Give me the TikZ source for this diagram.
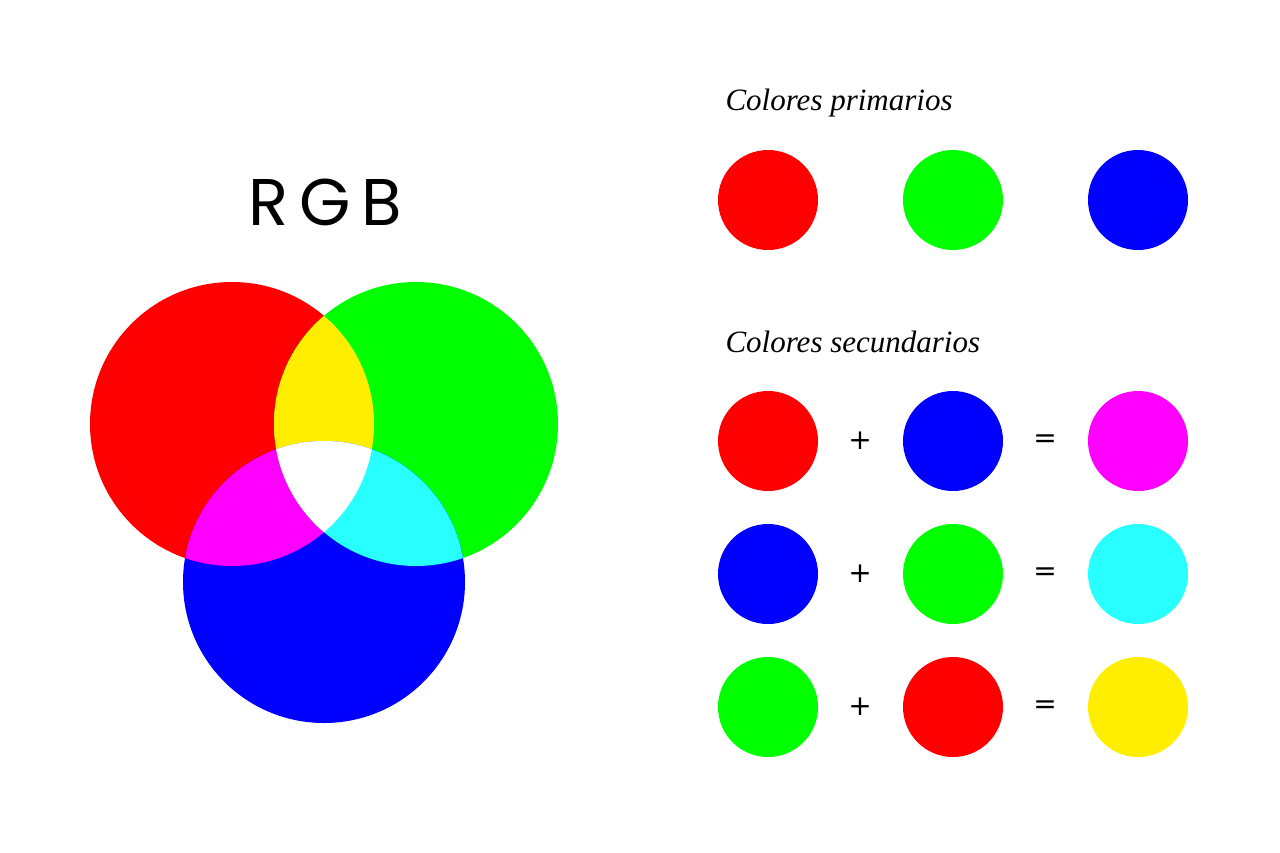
\documentclass[tikz,border=0pt]{standalone}
\usepackage{fontspec}
\setmainfont{Liberation Serif}
\newfontfamily\rgbfont{Poppins}
\newfontfamily\opfont{DejaVu Sans}
\definecolor{rojo}{HTML}{FF0000}
\definecolor{verde}{HTML}{00FF00}
\definecolor{azul}{HTML}{0000FF}
\definecolor{magenta}{HTML}{FF00FF}
\definecolor{cian}{HTML}{28FFFF}
\definecolor{amarillo}{HTML}{FFEE00}
\tikzset{
    dot/.style={circle, minimum size=100pt, inner sep=0pt, fill=#1},
    titulo/.style={anchor=west, font=\fontsize{31}{31}\selectfont\itshape},
    op/.style={font=\opfont\fontsize{28}{28}\selectfont}
}
\begin{document}
\begin{tikzpicture}[x=1pt, y=-1pt]
    \useasboundingbox (0,0) rectangle (1280,852);

    % diagrama RGB
    \node (rgb) at (325,202) {\rgbfont\fontsize{66}{66}\selectfont R\,G\,B};
    \fill[rojo] (232,424) circle (142);
    \fill[verde] (416,424) circle (142);
    \fill[azul] (324,582) circle (141);
    \begin{scope}
        \clip (232,424) circle (142);
        \fill[amarillo] (416,424) circle (142);
        \fill[magenta] (324,582) circle (141);
    \end{scope}
    \begin{scope}
        \clip (416,424) circle (142);
        \fill[cian] (324,582) circle (141);
        \clip (232,424) circle (142);
        \fill[white] (324,582) circle (141);
    \end{scope}

    % colores primarios
    \node[titulo] (prim) at (722,103) {Colores primarios};
    \foreach \x/\c in {768/rojo, 953/verde, 1138/azul} {
        \node[dot=\c] (p\x) at (\x,200) {};
    }

    % colores secundarios
    \node[titulo] (sec) at (722,342) {Colores secundarios};
    \foreach \y/\a/\b/\r in {441/rojo/azul/magenta, 574/azul/verde/cian, 707/verde/rojo/amarillo} {
        \node[dot=\a] (a\y) at (768,\y) {};
        \node[dot=\b] (b\y) at (953,\y) {};
        \node[dot=\r] (r\y) at (1138,\y) {};
        \node[op] (mas\y) at (860,\y) {+};
        \node[op] (igual\y) at (1045,\y) {=};
    }
\end{tikzpicture}
\end{document}
